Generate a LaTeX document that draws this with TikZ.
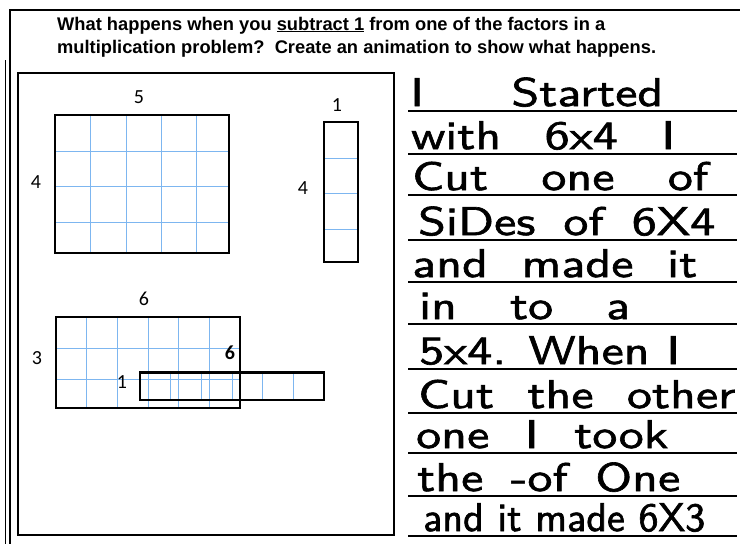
\documentclass[tikz,border=0pt]{standalone}
\usepackage{fontspec}
\setmainfont{Liberation Sans}
\newfontfamily\labfont{Carlito}
\newfontfamily\handfont{lmsans10-regular.otf}[FakeBold=1.6,FakeStretch=1.25]
\newfontfamily\handfontn{lmsans10-regular.otf}[FakeBold=1.6]
\definecolor{gridblue}{RGB}{125,182,240}
\begin{document}
\begin{tikzpicture}[x=1pt,y=-1pt,
  frameline/.style={line width=2pt,black},
  boxline/.style={line width=2.4pt,black},
  gridline/.style={line width=0.9pt,gridblue},
  lab/.style={font=\labfont\fontsize{20}{20}\selectfont,inner sep=0pt},
  ruleline/.style={line width=2pt,black},
  hw/.style={font=\handfont\fontsize{40}{40}\selectfont,anchor=base west,inner sep=0pt},
  hwn/.style={font=\handfontn\fontsize{40}{40}\selectfont,anchor=base west,inner sep=0pt},
  titletext/.style={font=\bfseries\fontsize{18.3}{20}\selectfont,anchor=base west,inner sep=0pt}]
\useasboundingbox (0,0) rectangle (740,544);
\fill[white] (0,0) rectangle (740,544);
% outer frame
\draw[frameline] (740,10) -- (9.5,10) -- (9.5,544);
\draw[line width=1.2pt] (5.5,60) -- (5.5,544);
% title
\node[titletext] (t1) at (57,30) {What happens when you \underline{subtract 1} from one of the factors in a};
\node[titletext] (t2) at (57,53) {multiplication problem?\ \ Create an animation to show what happens.};
% inner box
\draw[frameline] (17.5,72.5) rectangle (394,535);
% 5 x 4 rectangle
\foreach \x in {90,126,161,196} \draw[gridline] (\x,115) -- (\x,253);
\foreach \y in {151,186,222} \draw[gridline] (55,\y) -- (229,\y);
\draw[boxline] (55,115) rectangle (229,253);
\node[lab] (l5) at (139,97) {5};
\node[lab] (l4a) at (36,182) {4};
% 1 x 4 strip
\foreach \y in {158,193,229} \draw[gridline] (324,\y) -- (358,\y);
\draw[boxline] (324,122) rectangle (358,262);
\node[lab] (l1a) at (337,105) {1};
\node[lab] (l4b) at (303,188) {4};
% 6 x 3 rectangle
\foreach \x in {86.7,117.3,148,178.7,209.3} \draw[gridline] (\x,317) -- (\x,408);
\foreach \y in {348,379} \draw[gridline] (56,\y) -- (240,\y);
\draw[boxline] (56,317) rectangle (240,408);
% 6 x 1 strip
\foreach \x in {170.7,201.3,232,262.7,293.3} \draw[gridline] (\x,372.5) -- (\x,400);
\draw[boxline] (140,372.5) rectangle (324,400);
\node[lab] (l6a) at (144,299) {6};
\node[lab] (l3) at (37,358) {3};
\node[lab,font=\labfont\bfseries\fontsize{20}{20}\selectfont] (l6b) at (230,353) {6};
\node[lab] (l1b) at (122,382) {1};
% ruled lines
\foreach \y in {111,154,195,240,282,324,369,413,453,496,536}
  \draw[ruleline] (408,\y) -- (737,\y);
% handwriting
\node[hw] (h1) at (410,106) {\makebox[253pt][s]{I Started}};
\node[hw] (h2) at (411,149) {\makebox[264pt][s]{with 6x4 I}};
\node[hw] (h3) at (412,190) {\makebox[296pt][s]{Cut one of}};
\node[hw] (h4) at (418,235) {\makebox[297pt][s]{SiDes of 6X4}};
\node[hw] (h5) at (412,277) {\makebox[285pt][s]{and made it}};
\node[hw] (h6) at (419,319) {\makebox[211pt][s]{in to a}};
\node[hw] (h7) at (419,364) {\makebox[261pt][s]{5x4. When I}};
\node[hw] (h8) at (418,408) {\makebox[317pt][s]{Cut the other}};
\node[hw] (h9) at (416,448) {\makebox[252pt][s]{one I took}};
\node[hw] (h10) at (417,491) {\makebox[263pt][s]{the -of One}};
\node[hwn] (h11) at (423,531) {\makebox[282pt][s]{and it made 6X3}};
\end{tikzpicture}
\end{document}
